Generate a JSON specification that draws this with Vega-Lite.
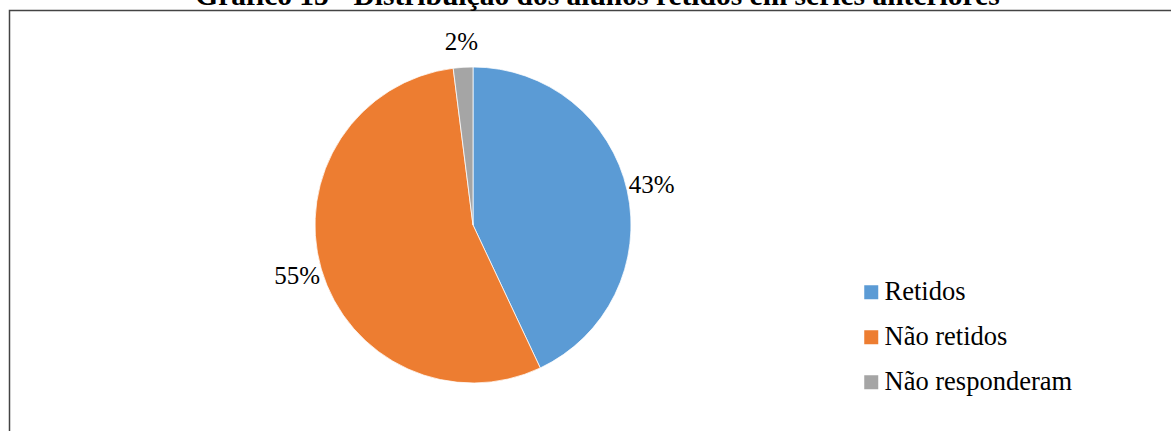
{
  "$schema": "https://vega.github.io/schema/vega-lite/v6.json",
  "autosize": {"type": "none"},
  "padding": {"left": 9.5, "top": 10.5, "right": 0, "bottom": 0},
  "width": 1200,
  "height": 440,
  "background": "white",
  "view": {"stroke": "#444444", "strokeWidth": 1.5, "fill": "white"},
  "title": {
    "text": "Gráfico 15 - Distribuição dos alunos retidos em séries anteriores",
    "font": "serif",
    "fontSize": 29.5,
    "fontWeight": "bold",
    "color": "black",
    "anchor": "middle",
    "frame": "group",
    "baseline": "alphabetic",
    "offset": -24,
    "dx": -12
  },
  "data": {
    "values": [
      {"cat": "Retidos", "pct": 0.43, "ord": 1},
      {"cat": "Não retidos", "pct": 0.55, "ord": 2},
      {"cat": "Não responderam", "pct": 0.02, "ord": 3}
    ]
  },
  "encoding": {
    "theta": {"field": "pct", "type": "quantitative", "stack": true},
    "order": {"field": "ord", "type": "quantitative"},
    "color": {
      "field": "cat",
      "type": "nominal",
      "scale": {
        "domain": ["Retidos", "Não retidos", "Não responderam"],
        "range": ["#5B9BD5", "#ED7D31", "#A5A5A5"]
      },
      "legend": {
        "title": null,
        "orient": "none",
        "legendX": 848.5,
        "legendY": 268.5,
        "symbolType": "square",
        "symbolSize": 196,
        "symbolStrokeWidth": 0,
        "labelFont": "serif",
        "labelFontSize": 26.5,
        "labelColor": "black",
        "labelOffset": 0,
        "labelLimit": 500,
        "rowPadding": 18,
        "padding": 0
      }
    }
  },
  "layer": [
    {
      "mark": {"type": "arc", "outerRadius": 158, "x": 463.5, "y": 214.5, "stroke": "white", "strokeWidth": 0.75}
    },
    {
      "mark": {"type": "text", "radius": 183, "x": 463.5, "y": 214.5, "font": "serif", "fontSize": 25, "color": "black", "align": "center", "baseline": "middle"},
      "encoding": {
        "text": {"field": "pct", "type": "quantitative", "format": ".0%"},
        "color": {"value": "black"}
      }
    }
  ],
  "config": {
    "view": {"stroke": "#444444", "strokeWidth": 1.5}
  }
}
